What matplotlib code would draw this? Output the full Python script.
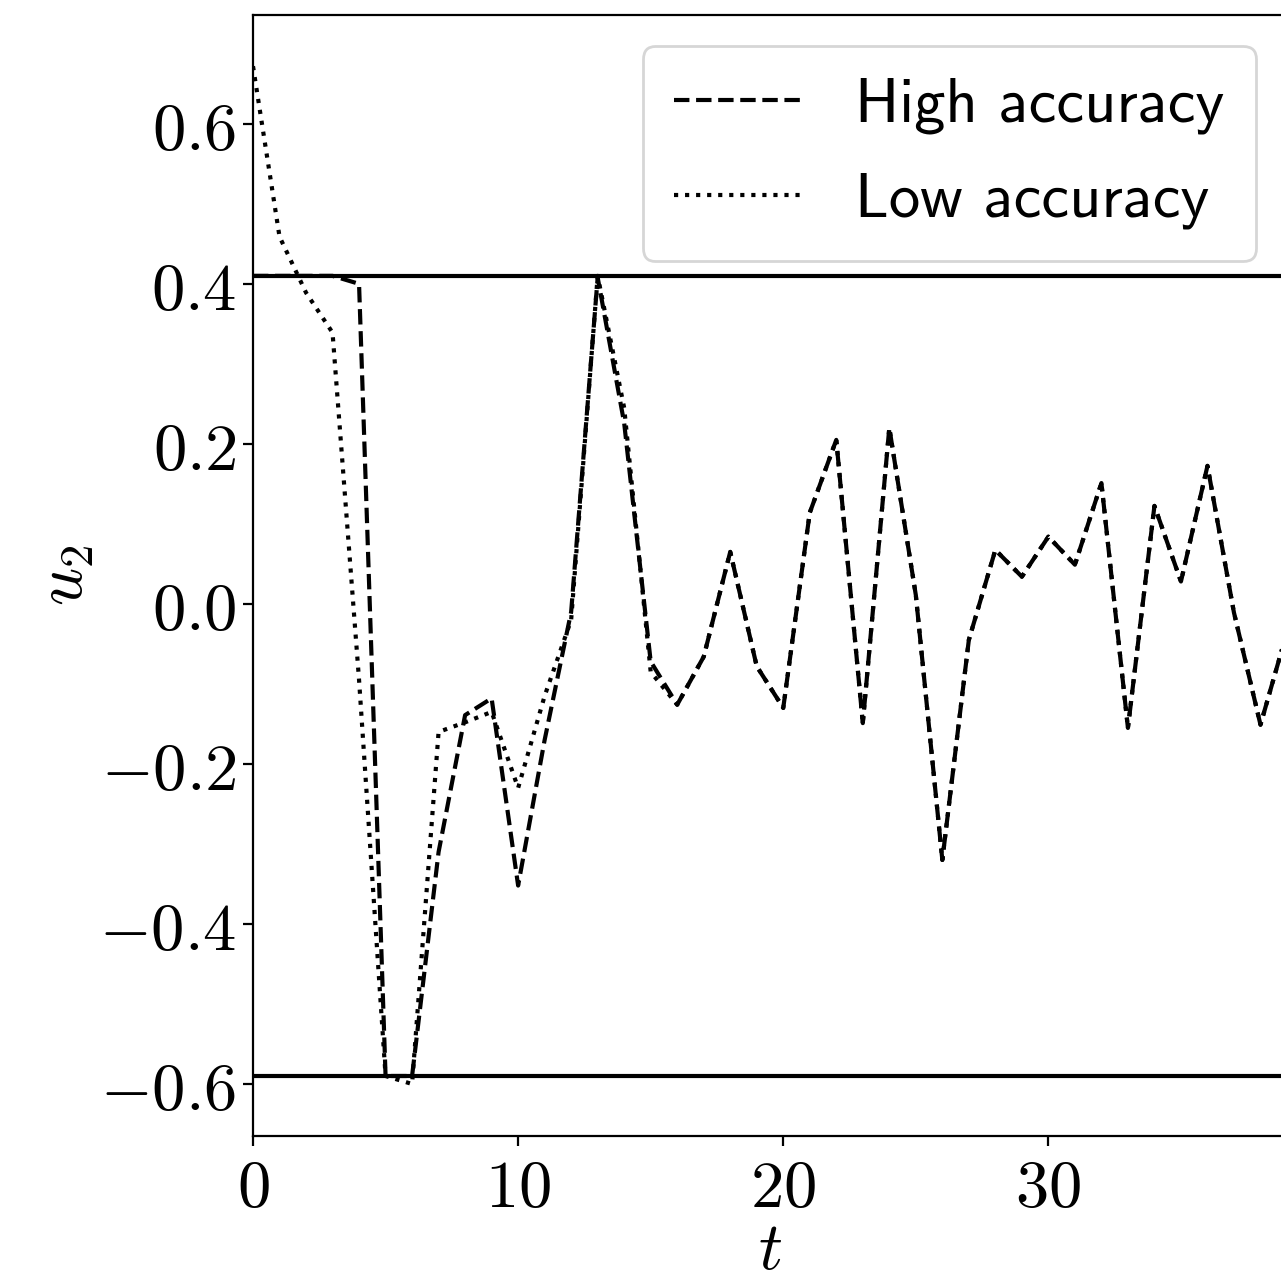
import matplotlib
matplotlib.use("Agg")
import matplotlib.pyplot as plt
from matplotlib.ticker import FuncFormatter, MultipleLocator

plt.rcParams['mathtext.fontset'] = 'cm'
plt.rcParams['font.size'] = 24

t = list(range(40))
high = [0.41, 0.41, 0.41, 0.41, 0.40, -0.59, -0.59, -0.31, -0.139, -0.118,
        -0.352, -0.17, -0.01, 0.408, 0.226, -0.072, -0.126, -0.066, 0.065, -0.078,
        -0.13, 0.114, 0.205, -0.149, 0.22, 0.011, -0.32, -0.045, 0.0675, 0.034,
        0.084, 0.049, 0.151, -0.155, 0.1225, 0.028, 0.1725, -0.011, -0.151, -0.035]
low = [0.672, 0.459, 0.389, 0.339, -0.095, -0.59, -0.60, -0.16, -0.148, -0.135,
       -0.23, -0.115, -0.02, 0.41, 0.245, -0.085, -0.126, -0.066, 0.065, -0.078,
       -0.13, 0.114, 0.205, -0.149, 0.22, 0.011, -0.32, -0.045, 0.0675, 0.034,
       0.084, 0.049, 0.151, -0.155, 0.1225, 0.028, 0.1725, -0.011, -0.151, -0.035]
u_max = 0.41
u_min = -0.59

fig = plt.figure(figsize=(1281 / 200, 1273 / 200), dpi=200)
ax = fig.add_axes([253 / 1281, 137 / 1273, 1034 / 1281, 1121 / 1273])

ax.plot(t, high, color='black', linestyle='--', lw=1.5, label='High accuracy')
ax.plot(t, low, color='black', linestyle=':', lw=1.5, label='Low accuracy')
ax.axhline(u_max, color='black', lw=1.5)
ax.axhline(u_min, color='black', lw=1.5)

ax.set_xlim(0, 39)
ax.set_ylim(-0.665, 0.736)
ax.xaxis.set_major_locator(MultipleLocator(10))
ax.yaxis.set_major_locator(MultipleLocator(0.2))


def fmt_y(v, pos):
    if abs(v) < 1e-9:
        v = 0.0
    return f'${v:.1f}$'


def fmt_x(v, pos):
    return f'${int(round(v))}$'


ax.yaxis.set_major_formatter(FuncFormatter(fmt_y))
ax.xaxis.set_major_formatter(FuncFormatter(fmt_x))
ax.tick_params(labelsize=24)
ax.tick_params(axis='y', pad=2.5)

ax.set_xlabel('$t$', fontsize=24, labelpad=-1.5)
ax.set_ylabel('$u_2$', fontsize=24, labelpad=1)

ax.legend(loc='upper right', prop={'family': 'cmss10', 'size': 22.5},
          handlelength=2.1, handletextpad=0.8, labelspacing=0.62, borderpad=0.5)

fig.savefig('out.png', dpi=200)
